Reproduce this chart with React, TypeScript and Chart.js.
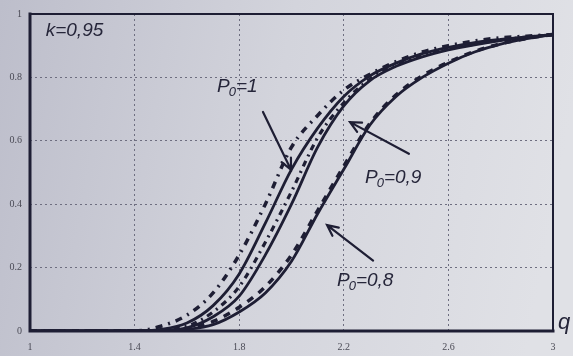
import { useEffect, useRef } from "react";
import { Chart, registerables } from "chart.js";
Chart.register(...registerables);

const qValues = [1.0, 1.1, 1.2, 1.3, 1.4, 1.5, 1.6, 1.7, 1.8, 1.9, 2.0, 2.1, 2.2, 2.3, 2.4, 2.5, 2.6, 2.7, 2.8, 2.9, 3.0];
const p1Dashed = [0, 0, 0, 0, 0, 0.015, 0.05, 0.12, 0.24, 0.40, 0.58, 0.68, 0.76, 0.81, 0.85, 0.88, 0.90, 0.915, 0.925, 0.93, 0.935];
const p1Solid = [0, 0, 0, 0, 0, 0.005, 0.025, 0.08, 0.18, 0.34, 0.51, 0.64, 0.74, 0.805, 0.845, 0.875, 0.895, 0.91, 0.92, 0.928, 0.935];
const p09Dashed = [0, 0, 0, 0, 0, 0.003, 0.015, 0.06, 0.14, 0.28, 0.44, 0.61, 0.72, 0.795, 0.84, 0.87, 0.89, 0.905, 0.918, 0.927, 0.935];
const p09Solid = [0, 0, 0, 0, 0, 0.002, 0.01, 0.045, 0.11, 0.24, 0.40, 0.58, 0.71, 0.79, 0.835, 0.865, 0.887, 0.903, 0.916, 0.926, 0.935];
const p08Solid = [0, 0, 0, 0, 0, 0, 0.005, 0.02, 0.06, 0.12, 0.22, 0.37, 0.51, 0.65, 0.74, 0.80, 0.845, 0.88, 0.905, 0.922, 0.935];
const p08Dashed = [0, 0, 0, 0, 0, 0, 0.008, 0.03, 0.075, 0.14, 0.24, 0.38, 0.52, 0.655, 0.745, 0.805, 0.848, 0.882, 0.906, 0.923, 0.935];

const xTickLabels = ["1", "1.4", "1.8", "2.2", "2.6", "3"];
const yTickLabels = ["0", "0.2", "0.4", "0.6", "0.8", "1"];

const INK = "#1e1e34";

function pts(ys: number[]) {
  return qValues.map((x, i) => ({ x, y: ys[i] }));
}

const bgPlugin = {
  id: "paperBg",
  beforeDraw(chart: any) {
    const { ctx, width, height } = chart;
    ctx.save();
    const g = ctx.createLinearGradient(0, 0, width, height * 0.3);
    g.addColorStop(0, "#bdbecb");
    g.addColorStop(0.5, "#d3d4dc");
    g.addColorStop(1, "#e0e1e6");
    ctx.fillStyle = g;
    ctx.fillRect(0, 0, width, height);
    ctx.restore();
  },
};

function drawP(ctx: any, x: number, y: number, rest: string) {
  ctx.font = "italic 19px 'Liberation Sans'";
  ctx.fillText("P", x, y);
  const w = ctx.measureText("P").width;
  ctx.font = "italic 13px 'Liberation Sans'";
  ctx.fillText("0", x + w - 1, y + 4);
  const w0 = ctx.measureText("0").width;
  ctx.font = "italic 19px 'Liberation Sans'";
  ctx.fillText(rest, x + w - 1 + w0, y);
}

function arrow(ctx: any, x1: number, y1: number, x2: number, y2: number) {
  ctx.beginPath();
  ctx.moveTo(x1, y1);
  ctx.lineTo(x2, y2);
  const a = Math.atan2(y2 - y1, x2 - x1);
  const L = 12;
  const s = 0.45;
  ctx.moveTo(x2 - L * Math.cos(a - s), y2 - L * Math.sin(a - s));
  ctx.lineTo(x2, y2);
  ctx.lineTo(x2 - L * Math.cos(a + s), y2 - L * Math.sin(a + s));
  ctx.stroke();
}

const annoPlugin = {
  id: "annotations",
  afterDraw(chart: any) {
    const { ctx, chartArea } = chart;
    const xs = chart.scales.x;
    const ys = chart.scales.y;
    const X = (v: number) => xs.getPixelForValue(v);
    const Y = (v: number) => ys.getPixelForValue(v);
    ctx.save();
    ctx.strokeStyle = INK;
    ctx.lineCap = "square";
    ctx.lineWidth = 2;
    ctx.beginPath();
    ctx.moveTo(chartArea.left, chartArea.top);
    ctx.lineTo(chartArea.right, chartArea.top);
    ctx.lineTo(chartArea.right, chartArea.bottom);
    ctx.stroke();
    ctx.lineWidth = 3;
    ctx.beginPath();
    ctx.moveTo(chartArea.left, chartArea.top);
    ctx.lineTo(chartArea.left, chartArea.bottom);
    ctx.lineTo(chartArea.right, chartArea.bottom);
    ctx.stroke();

    ctx.fillStyle = "#26263a";
    ctx.textBaseline = "alphabetic";
    ctx.textAlign = "left";
    ctx.font = "italic 19px 'Liberation Sans'";
    ctx.fillText("k=0,95", X(1.06), Y(0.93));

    drawP(ctx, X(1.715), Y(0.753), "=1");
    drawP(ctx, X(2.281), Y(0.466), "=0,9");
    drawP(ctx, X(2.174), Y(0.141), "=0,8");

    ctx.lineWidth = 2.2;
    ctx.lineCap = "round";
    arrow(ctx, X(1.891), Y(0.691), X(1.998), Y(0.509));
    arrow(ctx, X(2.449), Y(0.559), X(2.224), Y(0.659));
    arrow(ctx, X(2.312), Y(0.222), X(2.136), Y(0.334));

    ctx.font = "italic 22px 'Liberation Sans'";
    ctx.fillText("q", chartArea.right + 5, chartArea.bottom - 2);
    ctx.restore();
  },
};

export default function App() {
  const ref = useRef<HTMLCanvasElement>(null);
  useEffect(() => {
    document.body.style.margin = "0";
    const c = ref.current;
    if (!c) return;
    const line = (data: number[], dash: number[], width: number) => ({
      data: pts(data),
      borderColor: INK,
      borderWidth: width,
      borderDash: dash,
      pointRadius: 0,
      fill: false,
      cubicInterpolationMode: "monotone" as const,
    });
    const chart = new Chart(c, {
      type: "line",
      data: {
        datasets: [
          line(p1Dashed, [7, 6, 2, 6], 3.5),
          line(p1Solid, [], 2.8),
          line(p09Dashed, [6, 5, 2, 5], 3.2),
          line(p09Solid, [], 2.8),
          line(p08Solid, [], 2.8),
          line(p08Dashed, [7, 7], 3.5),
        ],
      },
      options: {
        animation: false,
        responsive: false,
        events: [],
        layout: { padding: { top: 11, right: 20, left: 0, bottom: 0 } },
        plugins: { legend: { display: false }, tooltip: { enabled: false } },
        scales: {
          x: {
            type: "linear",
            min: 1,
            max: 3,
            afterFit: (s: any) => {
              s.height = 25;
            },
            afterBuildTicks: (s: any) => {
              s.ticks = xTickLabels.map((t) => ({ value: parseFloat(t) }));
            },
            ticks: {
              callback: (v: any) => xTickLabels.find((t) => Math.abs(parseFloat(t) - v) < 1e-6) ?? "",
              font: { family: "'Liberation Serif'", size: 10 },
              color: "#4a4a55",
              padding: 10,
              maxRotation: 0,
              autoSkip: false,
            },
            grid: { color: "#6e6e80", lineWidth: 1, drawTicks: false },
            border: { display: false, dash: [2, 3] },
          },
          y: {
            type: "linear",
            min: 0,
            max: 1,
            afterFit: (s: any) => {
              s.width = 30;
            },
            afterBuildTicks: (s: any) => {
              s.ticks = yTickLabels.map((t) => ({ value: parseFloat(t) }));
            },
            ticks: {
              callback: (v: any) => yTickLabels.find((t) => Math.abs(parseFloat(t) - v) < 1e-6) ?? "",
              font: { family: "'Liberation Serif'", size: 10 },
              color: "#4a4a55",
              padding: 8,
            },
            grid: { color: "#6e6e80", lineWidth: 1, drawTicks: false },
            border: { display: false, dash: [2, 3] },
          },
        },
      },
      plugins: [bgPlugin, annoPlugin],
    });
    return () => chart.destroy();
  }, []);
  return (
    <div style={{ position: "absolute", left: 0, top: 0, width: 573, height: 356 }}>
      <canvas ref={ref} width={573} height={356} style={{ display: "block" }} />
    </div>
  );
}
